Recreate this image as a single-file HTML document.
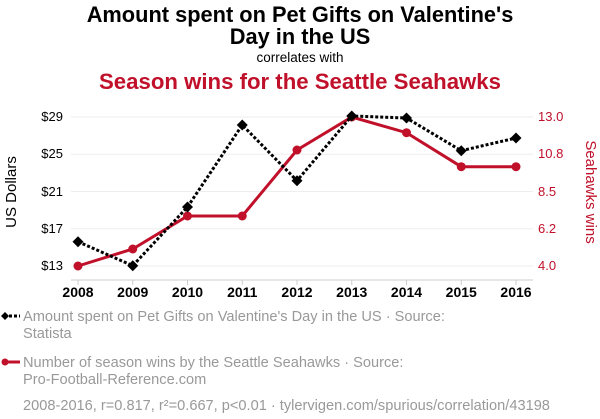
<!DOCTYPE html>
<html><head><meta charset="utf-8"><style>
body{margin:0;width:600px;height:414px;background:#fff;overflow:hidden;font-family:"Liberation Sans",sans-serif}
</style></head><body>
<svg width="600" height="414" xmlns="http://www.w3.org/2000/svg" font-family="Liberation Sans, sans-serif">
<text x="300" y="22" text-anchor="middle" font-size="21.8" font-weight="bold" fill="#000">Amount spent on Pet Gifts on Valentine's</text>
<text x="300" y="44" text-anchor="middle" font-size="21.8" font-weight="bold" fill="#000">Day in the US</text>
<text x="300" y="62" text-anchor="middle" font-size="13.5" fill="#000">correlates with</text>
<text x="300" y="89" text-anchor="middle" font-size="22.2" font-weight="bold" fill="#c0102a">Season wins for the Seattle Seahawks</text>
<g stroke="#eee" stroke-width="1">
<line x1="71" x2="533" y1="117" y2="117"/><line x1="71" x2="533" y1="154.3" y2="154.3"/><line x1="71" x2="533" y1="191.5" y2="191.5"/><line x1="71" x2="533" y1="228.8" y2="228.8"/><line x1="71" x2="533" y1="266" y2="266"/>
</g>
<line x1="71" x2="533" y1="280" y2="280" stroke="#ccc"/>
<g stroke="#ccc"><line x1="78" x2="78" y1="280" y2="285"/><line x1="132.75" x2="132.75" y1="280" y2="285"/><line x1="187.5" x2="187.5" y1="280" y2="285"/><line x1="242.25" x2="242.25" y1="280" y2="285"/><line x1="297" x2="297" y1="280" y2="285"/><line x1="351.75" x2="351.75" y1="280" y2="285"/><line x1="406.5" x2="406.5" y1="280" y2="285"/><line x1="461.25" x2="461.25" y1="280" y2="285"/><line x1="516" x2="516" y1="280" y2="285"/></g>
<g font-size="13" text-anchor="end" fill="#000">
<text x="63" y="121">$29</text><text x="63" y="158">$25</text><text x="63" y="196">$21</text><text x="63" y="233">$17</text><text x="63" y="270">$13</text></g>
<g font-size="13" fill="#c0102a">
<text x="538" y="121">13.0</text><text x="538" y="158">10.8</text><text x="538" y="196">8.5</text><text x="538" y="233">6.2</text><text x="538" y="270">4.0</text></g>
<g font-size="14" font-weight="bold" text-anchor="middle" fill="#000">
<text x="78" y="297">2008</text><text x="132.75" y="297">2009</text><text x="187.5" y="297">2010</text><text x="242.25" y="297">2011</text><text x="297" y="297">2012</text><text x="351.75" y="297">2013</text><text x="406.5" y="297">2014</text><text x="461.25" y="297">2015</text><text x="516" y="297">2016</text></g>
<text transform="translate(16,192) rotate(-90)" text-anchor="middle" font-size="15" fill="#000">US Dollars</text>
<text transform="translate(586,192) rotate(90)" text-anchor="middle" font-size="15" fill="#c0102a">Seahawks wins</text>
<polyline fill="none" stroke="#c0102a" stroke-width="3" points="78,266 132.75,249 187.5,216 242.25,216 297,150 351.75,117 406.5,132.7 461.25,166.7 516,166.7"/>
<g fill="#c0102a"><circle cx="78" cy="266" r="4.5"/><circle cx="132.75" cy="249" r="4.5"/><circle cx="187.5" cy="216" r="4.5"/><circle cx="242.25" cy="216" r="4.5"/><circle cx="297" cy="150" r="4.5"/><circle cx="351.75" cy="117" r="4.5"/><circle cx="406.5" cy="132.7" r="4.5"/><circle cx="461.25" cy="166.7" r="4.5"/><circle cx="516" cy="166.7" r="4.5"/></g>
<polyline fill="none" stroke="#000" stroke-width="3" stroke-dasharray="3,2" points="78,241.7 132.75,265.7 187.5,207 242.25,125 297,180.7 351.75,116 406.5,118 461.25,150.7 516,138"/>
<g fill="#000">
<path d="M78 236.2l5.5 5.5-5.5 5.5-5.5-5.5z"/><path d="M132.75 260.2l5.5 5.5-5.5 5.5-5.5-5.5z"/><path d="M187.5 201.5l5.5 5.5-5.5 5.5-5.5-5.5z"/><path d="M242.25 119.5l5.5 5.5-5.5 5.5-5.5-5.5z"/><path d="M297 175.2l5.5 5.5-5.5 5.5-5.5-5.5z"/><path d="M351.75 110.5l5.5 5.5-5.5 5.5-5.5-5.5z"/><path d="M406.5 112.5l5.5 5.5-5.5 5.5-5.5-5.5z"/><path d="M461.25 145.2l5.5 5.5-5.5 5.5-5.5-5.5z"/><path d="M516 132.5l5.5 5.5-5.5 5.5-5.5-5.5z"/></g>
<line x1="4" x2="20" y1="316" y2="316" stroke="#000" stroke-width="3" stroke-dasharray="3,2"/>
<path d="M5 312l4 4-4 4-4-4z" fill="#000"/>
<line x1="4" x2="20" y1="362" y2="362" stroke="#c0102a" stroke-width="3"/>
<circle cx="5" cy="362" r="3.5" fill="#c0102a"/>
<g font-size="14.6" fill="#999">
<text x="23" y="321">Amount spent on Pet Gifts on Valentine's Day in the US · Source:</text>
<text x="23" y="338">Statista</text>
<text x="23" y="367">Number of season wins by the Seattle Seahawks · Source:</text>
<text x="23" y="384">Pro-Football-Reference.com</text>
<text x="23" y="410">2008-2016, r=0.817, r²=0.667, p&lt;0.01 · tylervigen.com/spurious/correlation/43198</text>
</g>
</svg>
</body></html>
